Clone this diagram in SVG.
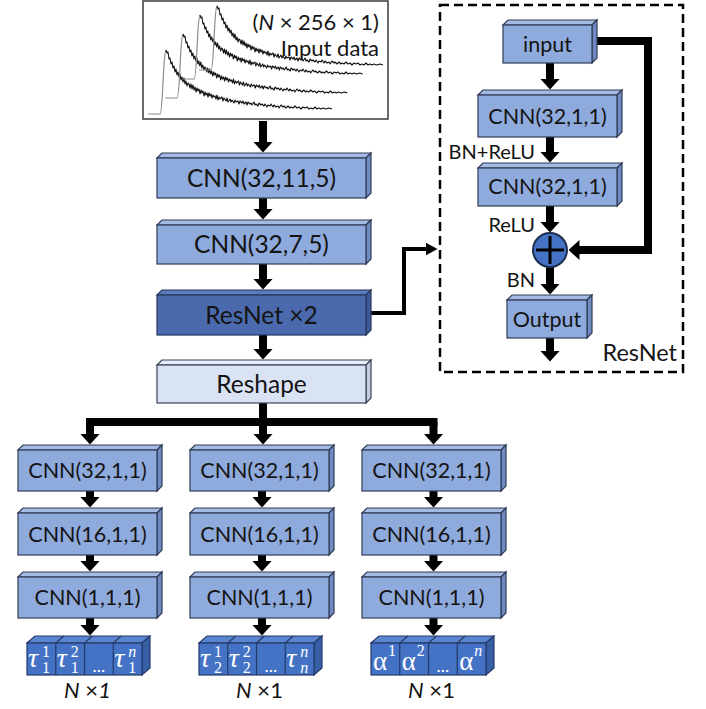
<svg xmlns="http://www.w3.org/2000/svg" width="706" height="709" viewBox="0 0 706 709">
<defs>
<style>
.f{fill:#8faadc;stroke:#2f3b55;stroke-width:1.2}
.tp{fill:#a3bbe4;stroke:#2f3b55;stroke-width:1.2}
.sd{fill:#6f8bc2;stroke:#2f3b55;stroke-width:1.2}
.df{fill:#4a6aad;stroke:#26375c;stroke-width:1.2}
.dt{fill:#5b7bbd;stroke:#26375c;stroke-width:1.2}
.ds{fill:#3b5a99;stroke:#26375c;stroke-width:1.2}
.lf{fill:#dae3f3;stroke:#3a4458;stroke-width:1.2}
.lt{fill:#e7edf8;stroke:#3a4458;stroke-width:1.2}
.ls{fill:#c3cee2;stroke:#3a4458;stroke-width:1.2}
.cf{fill:#4472c4;stroke:#243b6a;stroke-width:1.2}
.ct{fill:#5a86d0;stroke:#243b6a;stroke-width:1.2}
.cs{fill:#385fa6;stroke:#243b6a;stroke-width:1.2}
.t{font-family:Lato,'Open Sans','Liberation Sans',sans-serif;fill:#141414;text-anchor:middle}
.m{font-size:24.5px}
.p{font-size:21.5px}
.lb{font-family:Lato,'Open Sans','Liberation Sans',sans-serif;fill:#141414;font-size:20px;text-anchor:end}
.ms{font-family:'Liberation Serif','DejaVu Serif',serif;fill:#fff}
.tau{font-size:28px;font-style:italic}
.sc{font-size:16px}
.al{font-size:27px}
.dots{font-family:Lato,'Liberation Sans',sans-serif;fill:#fff;font-size:18px;text-anchor:middle}
.ar{stroke:#000;stroke-width:8;fill:none}
.rise{stroke:#8a8a8a;fill:none;stroke-width:1.2}
.dec{stroke:#111;fill:none;stroke-width:1.1;stroke-linejoin:round}
</style>
<marker id="ah" markerUnits="userSpaceOnUse" viewBox="0 0 11 20" refX="0.5" refY="10" markerWidth="11" markerHeight="20" orient="auto"><path d="M0,0 L11,10 L0,20 z" fill="#000"/></marker>
<marker id="ahs" markerUnits="userSpaceOnUse" viewBox="0 0 12 13" refX="0.5" refY="6.5" markerWidth="12" markerHeight="13" orient="auto"><path d="M0,0 L12,6.5 L0,13 z" fill="#000"/></marker>
<g id="wave">
<path class="rise" d="M-18,64 L-6,64 C-3,64 -3,2 0,0"/>
<polyline class="dec" points="0,0 1,3 2,2 3,9 4,8 5,14 6,12 7,18 8,16 9,22 10,19 11,25 12,22 13,27 14,24 15,30 16,27 17,32 18,28 19,34 20,31 21,36 22,33 23,34 24,38 25,34 26,39 27,35 28,40 29,37 30,42 31,38 32,41 33,39 34,44 35,40 36,43 37,41 38,46 39,42 40,45 41,43 42,47 43,43 44,46 45,44 46,48 47,45 48,47 49,46 50,49 51,45 52,50 53,47 54,49 56,47 57,51 58,48 60,51 61,48 62,52 64,49 65,52 66,50 68,53 69,50 70,52 72,51 73,54 74,51 76,53 77,51 78,54 80,52 81,55 82,52 84,54 85,53 86,55 88,52 89,55 90,54 92,56 93,53 95,55 96,54 98,56 99,54 101,57 102,55 104,56 105,54 107,57 108,55 110,57 112,56 113,58 115,55 117,57 118,56 120,58 122,56 124,58 125,57 127,58 129,56 131,58 133,57 135,59 137,57 139,58 141,57 143,59 145,58 147,59 149,57 151,59 153,58 155,59 157,58 160,59 163,58 166,59"/>
</g>
</defs>
<rect width="706" height="709" fill="#fff"/>

<g id="connectors">
<line class="ar" x1="263" y1="121" x2="263" y2="142" marker-end="url(#ah)"/>
<line class="ar" x1="263" y1="198" x2="263" y2="209" marker-end="url(#ah)"/>
<line class="ar" x1="263" y1="264" x2="263" y2="279" marker-end="url(#ah)"/>
<line class="ar" x1="263" y1="335" x2="263" y2="349" marker-end="url(#ah)"/>
<line class="ar" x1="263" y1="403" x2="263" y2="434" marker-end="url(#ah)"/>
<line class="ar" x1="86" y1="422" x2="437.5" y2="422"/>
<line class="ar" x1="90" y1="422" x2="90" y2="434" marker-end="url(#ah)"/>
<line class="ar" x1="433.5" y1="422" x2="433.5" y2="434" marker-end="url(#ah)"/>
<line class="ar" x1="90" y1="491" x2="90" y2="497" marker-end="url(#ah)"/>
<line class="ar" x1="90" y1="555" x2="90" y2="561" marker-end="url(#ah)"/>
<line class="ar" x1="90" y1="618" x2="90" y2="625" marker-end="url(#ah)"/>
<line class="ar" x1="262" y1="491" x2="262" y2="497" marker-end="url(#ah)"/>
<line class="ar" x1="262" y1="555" x2="262" y2="561" marker-end="url(#ah)"/>
<line class="ar" x1="262" y1="618" x2="262" y2="625" marker-end="url(#ah)"/>
<line class="ar" x1="433.5" y1="491" x2="433.5" y2="497" marker-end="url(#ah)"/>
<line class="ar" x1="433.5" y1="555" x2="433.5" y2="561" marker-end="url(#ah)"/>
<line class="ar" x1="433.5" y1="618" x2="433.5" y2="625" marker-end="url(#ah)"/>
<path d="M371,313 H404 V249 H426" stroke="#000" stroke-width="4" fill="none" marker-end="url(#ahs)"/>
<line class="ar" x1="550" y1="63" x2="550" y2="79" marker-end="url(#ah)"/>
<line class="ar" x1="550" y1="137" x2="550" y2="152" marker-end="url(#ah)"/>
<line class="ar" x1="550" y1="206" x2="550" y2="222" marker-end="url(#ah)"/>
<line class="ar" x1="550" y1="267" x2="550" y2="284" marker-end="url(#ah)"/>
<line class="ar" x1="550" y1="338" x2="550" y2="351" marker-end="url(#ah)"/>
<path class="ar" d="M597,41 H648 V250 H579" marker-end="url(#ah)"/>
</g>

<g id="input-data">
<rect x="143" y="1" width="245" height="118" fill="#fff" stroke="#3a3a3a" stroke-width="1.5"/>
<use href="#wave" transform="translate(166,50)"/>
<use href="#wave" transform="translate(183,34) scale(0.99,1)"/>
<use href="#wave" transform="translate(200,15) scale(0.98,1)"/>
<use href="#wave" transform="translate(217,6) scale(1.0,1)"/>
<text class="lb" x="379" y="30" style="font-size:22px">(<tspan font-style="italic">N</tspan> × 256 × 1)</text>
<text class="lb" x="379" y="56" style="font-size:22px">Input data</text>
</g>

<g id="cnn-32-11-5">
<polygon class="tp" points="157,158 162,153 371,153 366,158"/>
<polygon class="sd" points="366,158 371,153 371,193 366,198"/>
<rect class="f" x="157" y="158" width="209" height="40"/>
<text class="t m" x="261.5" y="187">CNN(32,11,5)</text>
</g>
<g id="cnn-32-7-5">
<polygon class="tp" points="157,225 162,220 371,220 366,225"/>
<polygon class="sd" points="366,225 371,220 371,259 366,264"/>
<rect class="f" x="157" y="225" width="209" height="39"/>
<text class="t m" x="261.5" y="253">CNN(32,7,5)</text>
</g>
<g id="resnet-x2">
<polygon class="dt" points="157,295 162,290 371,290 366,295"/>
<polygon class="ds" points="366,295 371,290 371,330 366,335"/>
<rect class="df" x="157" y="295" width="209" height="40"/>
<text class="t m" x="261.5" y="324">ResNet ×2</text>
</g>
<g id="reshape">
<polygon class="lt" points="157,365 162,360 371,360 366,365"/>
<polygon class="ls" points="366,365 371,360 371,398 366,403"/>
<rect class="lf" x="157" y="365" width="209" height="38"/>
<text class="t m" x="261.5" y="393">Reshape</text>
</g>

<g id="resnet-panel">
<rect x="440" y="5" width="243" height="367" fill="none" stroke="#000" stroke-width="2.5" stroke-dasharray="9 5"/>
<text class="lb" x="677" y="361" style="font-size:23.5px">ResNet</text>
</g>
<g id="res-input">
<polygon class="tp" points="503,25 508,20 597,20 592,25"/>
<polygon class="sd" points="592,25 597,20 597,58 592,63"/>
<rect class="f" x="503" y="25" width="89" height="38"/>
<text class="t p" x="547.5" y="52">input</text>
</g>
<g id="res-cnn1">
<polygon class="tp" points="478,95 483,90 622,90 617,95"/>
<polygon class="sd" points="617,95 622,90 622,132 617,137"/>
<rect class="f" x="478" y="95" width="139" height="42"/>
<text class="t p" x="547.5" y="124">CNN(32,1,1)</text>
</g>
<text class="lb" x="535" y="159">BN+ReLU</text>
<g id="res-cnn2">
<polygon class="tp" points="478,168 483,163 622,163 617,168"/>
<polygon class="sd" points="617,168 622,163 622,201 617,206"/>
<rect class="f" x="478" y="168" width="139" height="38"/>
<text class="t p" x="547.5" y="194">CNN(32,1,1)</text>
</g>
<text class="lb" x="535" y="232">ReLU</text>
<g id="res-add">
<circle cx="550" cy="250" r="17" fill="#4472c4" stroke="#1f2d4d" stroke-width="2"/>
<path d="M536,250 H564 M550,236 V264" stroke="#000" stroke-width="3"/>
</g>
<text class="lb" x="535" y="287">BN</text>
<g id="res-output">
<polygon class="tp" points="507,300 512,295 592,295 587,300"/>
<polygon class="sd" points="587,300 592,295 592,333 587,338"/>
<rect class="f" x="507" y="300" width="80" height="38"/>
<text class="t p" x="547" y="327">Output</text>
</g>

<g id="col1">
<g id="c1-r1">
<polygon class="tp" points="18,450 23,445 162,445 157,450"/>
<polygon class="sd" points="157,450 162,445 162,486 157,491"/>
<rect class="f" x="18" y="450" width="139" height="41"/>
<text class="t p" x="87.5" y="478">CNN(32,1,1)</text>
</g>
<g id="c1-r2">
<polygon class="tp" points="18,513 23,508 162,508 157,513"/>
<polygon class="sd" points="157,513 162,508 162,550 157,555"/>
<rect class="f" x="18" y="513" width="139" height="42"/>
<text class="t p" x="87.5" y="542">CNN(16,1,1)</text>
</g>
<g id="c1-r3">
<polygon class="tp" points="18,577 23,572 162,572 157,577"/>
<polygon class="sd" points="157,577 162,572 162,613 157,618"/>
<rect class="f" x="18" y="577" width="139" height="41"/>
<text class="t p" x="87.5" y="605">CNN(1,1,1)</text>
</g>
<g id="c1-out">
<polygon class="ct" points="27,643 35,636 150,636 142,643"/>
<polygon class="cs" points="142,643 150,636 150,668 142,675"/>
<rect class="cf" x="27" y="643" width="115" height="32"/>
<path d="M55.75,643 V675 M84.5,643 V675 M113.25,643 V675 M55.75,643 L63.75,636 M84.5,643 L92.5,636 M113.25,643 L121.25,636" stroke="#243b6a" stroke-width="1.2"/>
<text class="ms tau" x="28" y="667">τ</text><text class="ms sc" x="42" y="657">1</text><text class="ms sc" x="42" y="673">1</text>
<text class="ms tau" x="56.75" y="667">τ</text><text class="ms sc" x="70.75" y="657">2</text><text class="ms sc" x="70.75" y="673">1</text>
<text class="dots" x="98.9" y="672">...</text>
<text class="ms tau" x="114.25" y="667">τ</text><text class="ms sc" x="128.25" y="657" font-style="italic">n</text><text class="ms sc" x="128.25" y="673">1</text>
<text class="t" x="87.5" y="698" style="font-size:22px"><tspan font-style="italic">N</tspan> ×<tspan font-style="italic">1</tspan></text>
</g>
</g>

<g id="col2" transform="translate(172,0)">
<g id="c2-r1">
<polygon class="tp" points="18,450 23,445 162,445 157,450"/>
<polygon class="sd" points="157,450 162,445 162,486 157,491"/>
<rect class="f" x="18" y="450" width="139" height="41"/>
<text class="t p" x="87.5" y="478">CNN(32,1,1)</text>
</g>
<g id="c2-r2">
<polygon class="tp" points="18,513 23,508 162,508 157,513"/>
<polygon class="sd" points="157,513 162,508 162,550 157,555"/>
<rect class="f" x="18" y="513" width="139" height="42"/>
<text class="t p" x="87.5" y="542">CNN(16,1,1)</text>
</g>
<g id="c2-r3">
<polygon class="tp" points="18,577 23,572 162,572 157,577"/>
<polygon class="sd" points="157,577 162,572 162,613 157,618"/>
<rect class="f" x="18" y="577" width="139" height="41"/>
<text class="t p" x="87.5" y="605">CNN(1,1,1)</text>
</g>
<g id="c2-out">
<polygon class="ct" points="27,643 35,636 150,636 142,643"/>
<polygon class="cs" points="142,643 150,636 150,668 142,675"/>
<rect class="cf" x="27" y="643" width="115" height="32"/>
<path d="M55.75,643 V675 M84.5,643 V675 M113.25,643 V675 M55.75,643 L63.75,636 M84.5,643 L92.5,636 M113.25,643 L121.25,636" stroke="#243b6a" stroke-width="1.2"/>
<text class="ms tau" x="28" y="667">τ</text><text class="ms sc" x="42" y="657">1</text><text class="ms sc" x="42" y="673">2</text>
<text class="ms tau" x="56.75" y="667">τ</text><text class="ms sc" x="70.75" y="657">2</text><text class="ms sc" x="70.75" y="673">2</text>
<text class="dots" x="98.9" y="672">...</text>
<text class="ms tau" x="114.25" y="667">τ</text><text class="ms sc" x="128.25" y="657" font-style="italic">n</text><text class="ms sc" x="128.25" y="673" font-style="italic">n</text>
<text class="t" x="87.5" y="698" style="font-size:22px"><tspan font-style="italic">N</tspan> ×1</text>
</g>
</g>

<g id="col3" transform="translate(344,0)">
<g id="c3-r1">
<polygon class="tp" points="18,450 23,445 162,445 157,450"/>
<polygon class="sd" points="157,450 162,445 162,486 157,491"/>
<rect class="f" x="18" y="450" width="139" height="41"/>
<text class="t p" x="87.5" y="478">CNN(32,1,1)</text>
</g>
<g id="c3-r2">
<polygon class="tp" points="18,513 23,508 162,508 157,513"/>
<polygon class="sd" points="157,513 162,508 162,550 157,555"/>
<rect class="f" x="18" y="513" width="139" height="42"/>
<text class="t p" x="87.5" y="542">CNN(16,1,1)</text>
</g>
<g id="c3-r3">
<polygon class="tp" points="18,577 23,572 162,572 157,577"/>
<polygon class="sd" points="157,577 162,572 162,613 157,618"/>
<rect class="f" x="18" y="577" width="139" height="41"/>
<text class="t p" x="87.5" y="605">CNN(1,1,1)</text>
</g>
<g id="c3-out">
<polygon class="ct" points="27,643 35,636 150,636 142,643"/>
<polygon class="cs" points="142,643 150,636 150,668 142,675"/>
<rect class="cf" x="27" y="643" width="115" height="32"/>
<path d="M55.75,643 V675 M84.5,643 V675 M113.25,643 V675 M55.75,643 L63.75,636 M84.5,643 L92.5,636 M113.25,643 L121.25,636" stroke="#243b6a" stroke-width="1.2"/>
<text class="ms al" x="29" y="670">α</text><text class="ms sc" x="44" y="656">1</text>
<text class="ms al" x="57.75" y="670">α</text><text class="ms sc" x="72.75" y="656">2</text>
<text class="dots" x="98.9" y="672">...</text>
<text class="ms al" x="115.25" y="670">α</text><text class="ms sc" x="130.25" y="656" font-style="italic">n</text>
<text class="t" x="87.5" y="698" style="font-size:22px"><tspan font-style="italic">N</tspan> ×1</text>
</g>
</g>
</svg>
